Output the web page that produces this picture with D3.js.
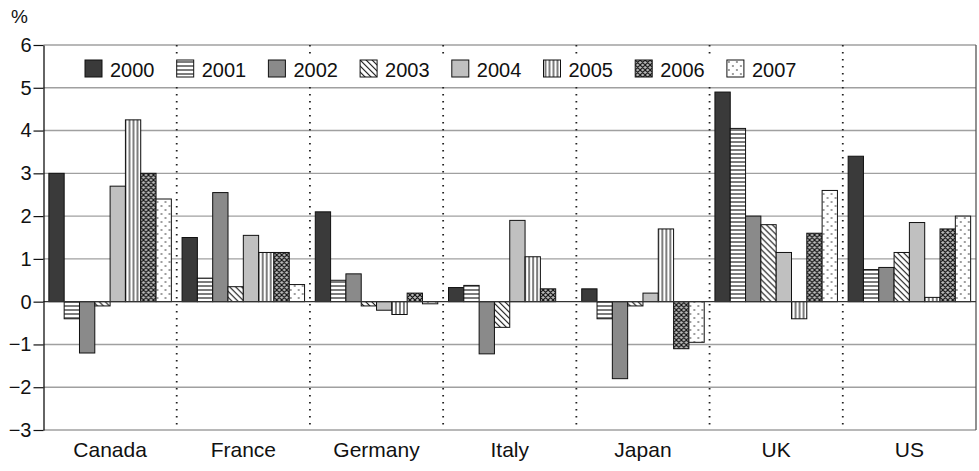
<!DOCTYPE html>
<html><head><meta charset="utf-8">
<script src="https://cdn.jsdelivr.net/npm/d3@7"></script>
<style>body{margin:0;background:#fff}svg{display:block}text{font-family:"Liberation Sans",Arial,sans-serif;fill:#111}</style>
</head><body><svg id="c" width="979" height="471"></svg>
<script>
const countries = ["Canada","France","Germany","Italy","Japan","UK","US"];
const years = ["2000","2001","2002","2003","2004","2005","2006","2007"];
const yTicks = [-3,-2,-1,0,1,2,3,4,5,6];
const canada  = [3.0, -0.4, -1.2, -0.1, 2.7, 4.25, 3.0, 2.4];
const france  = [1.5, 0.55, 2.55, 0.35, 1.55, 1.15, 1.15, 0.4];
const germany = [2.1, 0.5, 0.65, -0.1, -0.2, -0.3, 0.2, -0.05];
const italy   = [0.33, 0.38, -1.22, -0.6, 1.9, 1.05, 0.3, 0];
const japan   = [0.3, -0.4, -1.8, -0.1, 0.2, 1.7, -1.1, -0.95];
const uk      = [4.9, 4.05, 2.0, 1.8, 1.15, -0.4, 1.6, 2.6];
const us      = [3.4, 0.75, 0.8, 1.15, 1.85, 0.1, 1.7, 2.0];
const values = [canada, france, germany, italy, japan, uk, us];

const svg = d3.select("#c");
const L = 43.5, R = 976, T = 45, B = 430;
const x0 = d3.scaleBand().domain(countries).range([L, R]).padding(0);
const x1 = d3.scaleBand().domain(years).range([0, x0.bandwidth()]).paddingInner(0).paddingOuter(0.35);
const y = d3.scaleLinear().domain([-3, 6]).range([B, T]);

// patterns
const defs = svg.append("defs");
function pat(id, w, h, draw, bg) {
  const p = defs.append("pattern").attr("id", id).attr("patternUnits", "userSpaceOnUse").attr("width", w).attr("height", h);
  p.append("rect").attr("width", w).attr("height", h).attr("fill", bg || "#fff");
  draw(p);
}
pat("p1", 4, 4, p => p.append("line").attr("x1",0).attr("x2",4).attr("y1",2).attr("y2",2).attr("stroke","#111").attr("stroke-width",1.1));
pat("p3", 6, 6, p => p.append("path").attr("d","M0,0L6,6M-1,5L1,7M5,-1L7,1").attr("stroke","#111").attr("stroke-width",1.1));
pat("p5", 4, 4, p => p.append("line").attr("x1",2).attr("x2",2).attr("y1",0).attr("y2",4).attr("stroke","#111").attr("stroke-width",1.1));
pat("p6", 5, 5, p => p.append("path").attr("d","M0,0L5,5M5,0L0,5M-1,4L1,6M4,-1L6,1M-1,1L1,-1M4,6L6,4").attr("stroke","#111").attr("stroke-width",1.2), "#bbb");
pat("p7", 8, 8, p => { p.append("circle").attr("cx",2).attr("cy",2).attr("r",0.8).attr("fill","#222"); p.append("circle").attr("cx",6).attr("cy",6).attr("r",0.8).attr("fill","#222"); });
const fills = ["#3a3a3a","url(#p1)","#8a8a8a","url(#p3)","#c0c0c0","url(#p5)","url(#p6)","url(#p7)"];

// gridlines
svg.append("g").selectAll("line").data(yTicks.filter(d => d !== 0)).join("line")
  .attr("x1", L).attr("x2", R).attr("y1", d => y(d)).attr("y2", d => y(d))
  .attr("stroke", "#a0a0a0").attr("stroke-width", 1.4);

// separators
svg.append("g").selectAll("line").data(countries.slice(1)).join("line")
  .attr("x1", d => x0(d)).attr("x2", d => x0(d)).attr("y1", T).attr("y2", B)
  .attr("stroke", "#222").attr("stroke-width", 1.8).attr("stroke-dasharray", "1.6,5.4");

// right border
svg.append("line").attr("x1", R).attr("x2", R).attr("y1", T).attr("y2", B).attr("stroke", "#555").attr("stroke-width", 1.3);

// bars
const g = svg.append("g").selectAll("g").data(countries).join("g").attr("transform", d => `translate(${x0(d)},0)`);
g.selectAll("rect").data((c, i) => years.map((yr, j) => ({yr, j, v: values[i][j]}))).join("rect")
  .attr("x", d => x1(d.yr)).attr("width", x1.bandwidth())
  .attr("y", d => y(Math.max(0, d.v))).attr("height", d => Math.abs(y(d.v) - y(0)))
  .attr("fill", d => fills[d.j]).attr("stroke", "#111").attr("stroke-width", 1);

// zero line
svg.append("line").attr("x1", L).attr("x2", R).attr("y1", y(0)).attr("y2", y(0)).attr("stroke", "#333").attr("stroke-width", 1.2);

// y axis
const ax = svg.append("g").attr("transform", `translate(${L},0)`)
  .call(d3.axisLeft(y).tickValues(yTicks).tickSize(10).tickPadding(2).tickSizeOuter(0));
ax.select(".domain").attr("stroke", "#111").attr("stroke-width", 1.3);
ax.selectAll(".tick line").attr("stroke", "#111").attr("stroke-width", 1.2);
ax.selectAll(".tick text").attr("font-size", 20).attr("font-family", '"Liberation Sans",Arial,sans-serif').attr("fill", "#111");

svg.append("text").attr("x", 11).attr("y", 23).attr("font-size", 19).text("%");

// x labels
svg.append("g").selectAll("text").data(countries).join("text")
  .attr("x", d => x0(d) + x0.bandwidth() / 2).attr("y", 457).attr("text-anchor", "middle").attr("font-size", 21).text(d => d);

// legend
svg.append("rect").attr("x", 78).attr("y", 56).attr("width", 728).attr("height", 31).attr("fill", "#fff");
const lg = svg.append("g").selectAll("g").data(years).join("g").attr("transform", (d, i) => `translate(${85 + i * 91.7},60)`);
lg.append("rect").attr("width", 17).attr("height", 17).attr("fill", (d, i) => fills[i]).attr("stroke", "#111").attr("stroke-width", 1);
lg.append("text").attr("x", 25).attr("y", 17).attr("font-size", 20).text(d => d);
</script></body></html>
